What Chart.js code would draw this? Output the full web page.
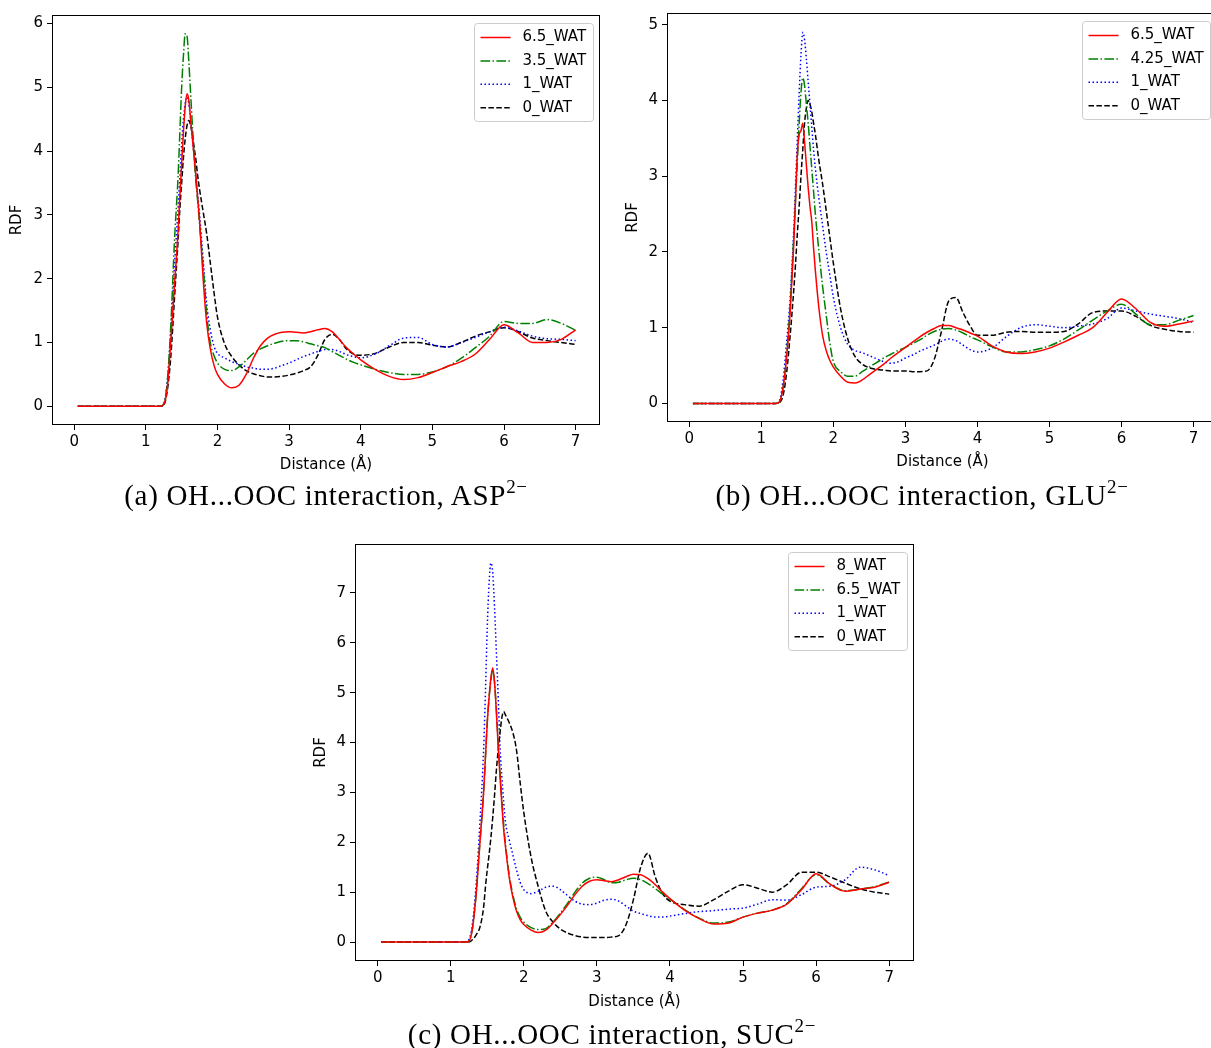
<!DOCTYPE html>
<html>
<head>
<meta charset="utf-8">
<script src="https://cdn.jsdelivr.net/npm/chart.js@4.4.1/dist/chart.umd.min.js"></script>
<style>
html, body { margin: 0; padding: 0; background: #fff; overflow: hidden; width: 1211px; height: 1048px; }
.box { position: absolute; }
.cap { position: absolute; font-family: "Liberation Serif", serif; font-size: 29px; line-height: 30px;
       letter-spacing: 0.7px; white-space: nowrap; transform: translateX(-50%); color: #000; }
.cap sup { font-size: 19px; vertical-align: 0; position: relative; top: -12px; line-height: 0; }
</style>
</head>
<body>
<div class="box" style="left:0px;top:0px;width:610px;height:480px"><canvas id="chartA"></canvas></div>
<div class="box" style="left:615px;top:0px;width:615px;height:477px"><canvas id="chartB"></canvas></div>
<div class="box" style="left:303px;top:529px;width:621px;height:487px"><canvas id="chartC"></canvas></div>
<div class="cap" style="left:326px;top:480px">(a) OH...OOC interaction, ASP<sup>2−</sup></div>
<div class="cap" style="left:922px;top:480px">(b) OH...OOC interaction, GLU<sup>2−</sup></div>
<div class="cap" style="left:612px;top:1019px">(c) OH...OOC interaction, SUC<sup>2−</sup></div>
<script>
// distance grid (Å), finer around the first peak
const distance = [0.05, 0.5, 1.0, 1.2, 1.25, 1.3, 1.35, 1.4,
  1.45, 1.475, 1.5, 1.525, 1.55, 1.575, 1.6, 1.625, 1.65, 1.675, 1.7, 1.725, 1.75,
  1.8, 1.85, 1.9, 1.95, 2.0,
  2.1, 2.2, 2.3, 2.4, 2.5, 2.6, 2.7, 2.8, 2.9, 3.0, 3.1, 3.2, 3.3, 3.4, 3.5, 3.6, 3.7, 3.8, 3.9, 4.0,
  4.2, 4.4, 4.6, 4.8, 5.0, 5.2, 5.4, 5.6, 5.8, 6.0, 6.2, 6.4, 6.6, 6.8, 7.0];

// (a) ASP
const aspLabels = ["6.5_WAT", "3.5_WAT", "1_WAT", "0_WAT"];
const asp65 = [0,0,0,0, 0.03,0.3,1.05,1.9,
  2.75,3.3,3.8,4.3,4.7,4.9,4.8,4.5,4.2,3.9,3.6,3.25,2.9,
  2.0,1.3,0.9,0.65,0.5,
  0.35,0.29,0.33,0.5,0.75,0.95,1.07,1.13,1.16,1.17,1.16,1.15,1.17,1.2,1.22,1.17,1.05,0.92,0.82,0.73,
  0.58,0.47,0.42,0.45,0.53,0.62,0.7,0.82,1.05,1.28,1.15,1.0,1.0,1.05,1.2];
const asp35 = [0,0,0,0, 0.04,0.4,1.3,2.6,
  3.6,4.3,5.0,5.5,5.84,5.8,5.4,4.9,4.4,3.9,3.5,3.2,2.85,
  2.2,1.45,1.0,0.8,0.68,
  0.58,0.56,0.62,0.72,0.83,0.9,0.95,0.99,1.02,1.03,1.03,1.01,0.98,0.95,0.92,0.86,0.8,0.74,0.69,0.65,
  0.58,0.53,0.5,0.5,0.54,0.62,0.75,0.92,1.1,1.33,1.3,1.3,1.36,1.3,1.19];
const asp1 = [0,0,0,0, 0.04,0.4,1.2,2.2,
  3.1,3.6,4.1,4.5,4.75,4.85,4.75,4.5,4.2,3.9,3.6,3.3,3.0,
  2.3,1.6,1.2,0.95,0.83,
  0.76,0.7,0.66,0.62,0.6,0.58,0.58,0.6,0.64,0.68,0.73,0.78,0.82,0.86,0.89,0.89,0.86,0.81,0.78,0.76,
  0.82,0.95,1.07,1.08,0.97,0.93,1.0,1.08,1.17,1.24,1.18,1.1,1.06,1.05,1.03];
const asp0 = [0,0,0,0, 0.02,0.25,0.8,1.7,
  2.6,3.1,3.5,3.9,4.2,4.4,4.48,4.4,4.25,4.05,3.85,3.6,3.4,
  3.05,2.7,2.25,1.8,1.4,
  0.98,0.78,0.65,0.56,0.51,0.48,0.46,0.46,0.47,0.49,0.52,0.56,0.62,0.8,1.05,1.13,1.05,0.9,0.82,0.8,
  0.83,0.93,1.0,1.0,0.96,0.93,1.0,1.1,1.17,1.23,1.17,1.07,1.03,1.0,0.97];

// (b) GLU
const gluLabels = ["6.5_WAT", "4.25_WAT", "1_WAT", "0_WAT"];
const glu65 = [0,0,0,0, 0.02,0.2,0.6,1.2,
  2.1,2.7,3.3,3.55,3.6,3.7,3.45,3.15,2.85,2.6,2.4,2.05,1.75,
  1.25,0.9,0.7,0.57,0.48,
  0.36,0.28,0.27,0.31,0.38,0.45,0.52,0.6,0.67,0.74,0.81,0.88,0.94,0.99,1.03,1.03,1.0,0.97,0.93,0.89,
  0.76,0.68,0.66,0.68,0.73,0.81,0.9,1.0,1.2,1.38,1.25,1.07,1.02,1.05,1.09];
const glu425 = [0,0,0,0, 0.02,0.2,0.65,1.3,
  2.2,2.7,3.2,3.7,4.1,4.3,4.2,3.95,3.7,3.4,3.1,2.8,2.5,
  2.0,1.55,1.17,0.8,0.55,
  0.42,0.36,0.36,0.42,0.48,0.54,0.6,0.65,0.7,0.74,0.79,0.84,0.9,0.95,0.98,0.99,0.97,0.93,0.88,0.84,
  0.75,0.68,0.68,0.71,0.76,0.85,0.97,1.1,1.22,1.31,1.18,1.04,1.04,1.1,1.16];
const glu1 = [0,0,0,0, 0.03,0.3,0.8,1.4,
  2.3,2.9,3.5,4.1,4.6,4.9,4.8,4.55,4.25,3.95,3.65,3.35,3.1,
  2.7,2.35,2.0,1.7,1.4,
  1.0,0.78,0.7,0.67,0.63,0.59,0.55,0.53,0.55,0.6,0.64,0.69,0.73,0.77,0.82,0.85,0.83,0.77,0.71,0.68,
  0.73,0.88,1.0,1.04,1.02,1.0,1.02,1.05,1.12,1.26,1.22,1.18,1.15,1.12,1.07];
const glu0 = [0,0,0,0, 0.01,0.1,0.4,0.9,
  1.5,1.85,2.25,2.6,3.0,3.35,3.7,3.9,4.0,3.95,3.85,3.7,3.55,
  3.2,2.9,2.55,2.2,1.85,
  1.25,0.85,0.62,0.52,0.47,0.45,0.44,0.43,0.43,0.43,0.42,0.42,0.43,0.58,0.95,1.35,1.4,1.2,1.02,0.9,
  0.9,0.94,0.95,0.94,0.94,0.95,1.05,1.2,1.22,1.22,1.15,1.03,0.98,0.95,0.94];

// (c) SUC
const sucLabels = ["8_WAT", "6.5_WAT", "1_WAT", "0_WAT"];
const suc8 = [0,0,0,0, 0.02,0.3,1.0,2.0,
  3.0,3.7,4.4,4.9,5.3,5.5,5.2,4.6,3.9,3.3,2.75,2.25,1.9,
  1.3,0.9,0.62,0.45,0.35,
  0.24,0.19,0.24,0.38,0.55,0.74,0.95,1.12,1.22,1.25,1.23,1.21,1.25,1.31,1.36,1.35,1.27,1.15,1.0,0.87,
  0.64,0.47,0.36,0.38,0.5,0.58,0.64,0.76,1.05,1.37,1.15,1.02,1.06,1.1,1.2];
const suc65 = [0,0,0,0, 0.02,0.3,1.0,2.0,
  3.0,3.7,4.4,4.9,5.25,5.46,5.2,4.65,4.0,3.4,2.85,2.35,1.95,
  1.35,0.95,0.67,0.5,0.4,
  0.29,0.25,0.27,0.4,0.58,0.78,1.0,1.18,1.28,1.3,1.25,1.19,1.2,1.25,1.28,1.25,1.17,1.07,0.96,0.86,
  0.65,0.48,0.38,0.4,0.5,0.58,0.64,0.77,1.07,1.35,1.15,1.03,1.06,1.11,1.2];
const suc1 = [0,0,0,0, 0.05,0.4,1.2,2.4,
  3.85,5.0,6.3,7.2,7.6,7.4,6.7,5.8,4.9,3.9,3.3,2.8,2.4,
  2.05,1.75,1.45,1.2,1.05,
  0.97,1.02,1.1,1.12,1.05,0.93,0.82,0.76,0.75,0.78,0.84,0.86,0.82,0.72,0.62,0.57,0.53,0.5,0.5,0.52,
  0.57,0.61,0.63,0.66,0.68,0.76,0.85,0.84,0.95,1.1,1.12,1.25,1.5,1.45,1.33];
const suc0 = [0,0,0,0, 0.0,0.05,0.15,0.3,
  0.7,1.1,1.45,1.75,2.1,2.5,2.95,3.45,3.85,4.2,4.5,4.62,4.55,
  4.4,4.2,3.85,3.2,2.6,
  1.7,1.1,0.62,0.4,0.26,0.18,0.13,0.1,0.09,0.09,0.09,0.1,0.13,0.35,0.85,1.5,1.78,1.3,0.97,0.82,
  0.75,0.72,0.85,1.02,1.15,1.08,1.0,1.15,1.4,1.4,1.3,1.18,1.07,1.0,0.96];

const xTicks = [0, 1, 2, 3, 4, 5, 6, 7];

const FONT = "DejaVu Sans";
const styles = [
  { color: "#ff0000", dash: [] },
  { color: "#008000", dash: [9.6, 2.4, 1.5, 2.4] },
  { color: "#0000ff", dash: [1.5, 2.5] },
  { color: "#000000", dash: [5.5, 2.4] }
];

// matplotlib-like frame + legend in upper right
const mplFrame = {
  id: "mplFrame",
  afterDraw(chart) {
    const { ctx, chartArea: a } = chart;
    ctx.save();
    ctx.strokeStyle = "#000";
    ctx.lineWidth = 1;
    ctx.setLineDash([]);
    ctx.strokeRect(Math.round(a.left) + 0.5, Math.round(a.top) + 0.5,
      Math.round(a.right - a.left) - 1, Math.round(a.bottom - a.top) - 1);

    const ds = chart.data.datasets;
    ctx.font = "15px \"" + FONT + "\"";
    let tw = 0;
    for (const d of ds) tw = Math.max(tw, ctx.measureText(d.label).width);
    const w = 6 + 30 + 12 + tw + 7;
    const pitch = 23.4;
    const h = 12 + ds.length * 15.9 + (ds.length - 1) * 7.5;
    const x0 = Math.round(a.right - 7.5 - w) + 0.5;
    const y0 = Math.round(a.top + 7.5) + 0.5;
    ctx.beginPath();
    ctx.roundRect(x0, y0, Math.round(w), Math.round(h), 3);
    ctx.fillStyle = "rgba(255,255,255,0.8)";
    ctx.fill();
    ctx.strokeStyle = "#cccccc";
    ctx.stroke();
    ds.forEach((d, i) => {
      const y = y0 + 14 + i * pitch;
      ctx.beginPath();
      ctx.setLineDash(d.borderDash || []);
      ctx.strokeStyle = d.borderColor;
      ctx.lineWidth = d.borderWidth;
      ctx.moveTo(x0 + 6, y);
      ctx.lineTo(x0 + 36, y);
      ctx.stroke();
      ctx.setLineDash([]);
      ctx.fillStyle = "#000";
      ctx.textBaseline = "middle";
      ctx.textAlign = "left";
      ctx.fillText(d.label, x0 + 48, y);
    });
    ctx.restore();
  }
};

function makeChart(id, labels, series, yMin, yMax, yTicks, pad) {
  const datasets = series.map((s, i) => ({
    label: labels[i],
    data: distance.map((x, k) => ({ x: x, y: s[k] })),
    borderColor: styles[i].color,
    borderDash: styles[i].dash,
    borderWidth: 1.5,
    borderCapStyle: "butt",
    pointRadius: 0,
    fill: false,
    cubicInterpolationMode: "monotone"
  }));
  return new Chart(document.getElementById(id), {
    type: "line",
    data: { datasets: datasets },
    plugins: [mplFrame],
    options: {
      responsive: true,
      maintainAspectRatio: false,
      animation: false,
      devicePixelRatio: 1,
      layout: { padding: { top: pad.top, right: pad.right, left: 0, bottom: 0 } },
      plugins: { legend: { display: false }, tooltip: { enabled: false } },
      scales: {
        x: {
          type: "linear",
          min: -0.31,
          max: 7.34,
          border: { display: false },
          grid: { drawOnChartArea: false, drawTicks: true, tickLength: 5, color: "#000" },
          afterBuildTicks: (s) => { s.ticks = xTicks.map(v => ({ value: v })); },
          ticks: { color: "#000", font: { family: FONT, size: 15 }, padding: 3, maxRotation: 0, autoSkip: false },
          title: { display: true, text: "Distance (Å)", color: "#000", font: { family: FONT, size: 15 },
                   padding: { top: 0, bottom: pad.xTitle } },
          afterFit: (s) => { s.height = pad.xAxis; }
        },
        y: {
          min: yMin,
          max: yMax,
          border: { display: false },
          grid: { drawOnChartArea: false, drawTicks: true, tickLength: 5, color: "#000" },
          afterBuildTicks: (s) => { s.ticks = yTicks.map(v => ({ value: v })); },
          ticks: { color: "#000", font: { family: FONT, size: 15 }, padding: 4, autoSkip: false },
          title: { display: true, text: "RDF", color: "#000", font: { family: FONT, size: 15 },
                   padding: { top: pad.yTitle, bottom: 0 } },
          afterFit: (s) => { s.width = 52; }
        }
      }
    }
  });
}

makeChart("chartA", aspLabels, [asp65, asp35, asp1, asp0], -0.292, 6.132, [0, 1, 2, 3, 4, 5, 6],
  { top: 15, right: 10, xAxis: 55, xTitle: 6, yTitle: 8 });
makeChart("chartB", gluLabels, [glu65, glu425, glu1, glu0], -0.245, 5.155, [0, 1, 2, 3, 4, 5],
  { top: 12, right: 12, xAxis: 55, xTitle: 6, yTitle: 9 });
makeChart("chartC", sucLabels, [suc8, suc65, suc1, suc0], -0.38, 7.98, [0, 1, 2, 3, 4, 5, 6, 7],
  { top: 15, right: 10, xAxis: 55, xTitle: 5, yTitle: 9 });
</script>
</body>
</html>
